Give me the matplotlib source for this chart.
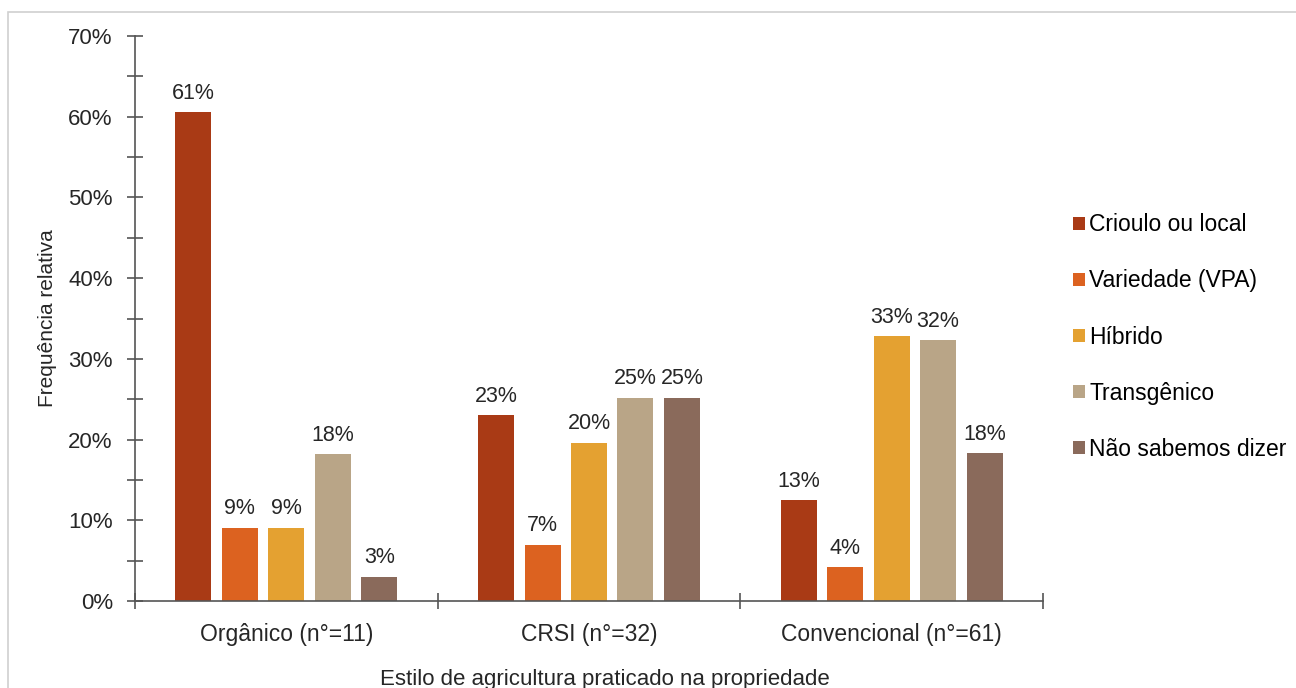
import numpy as np
import matplotlib.pyplot as plt
from matplotlib.patches import Rectangle

plt.rcParams['font.family'] = ['Liberation Sans', 'DejaVu Sans']

# data
grupos = ["Orgânico (n°=11)", "CRSI (n°=32)", "Convencional (n°=61)"]
series = ["Crioulo ou local", "Variedade (VPA)", "Híbrido", "Transgênico", "Não sabemos dizer"]
organico = [60.6, 9.1, 9.1, 18.2, 3.0]
crsi = [23.0, 7.0, 19.6, 25.2, 25.2]
convencional = [12.5, 4.2, 32.8, 32.3, 18.3]
rotulos = [["61%", "9%", "9%", "18%", "3%"],
           ["23%", "7%", "20%", "25%", "25%"],
           ["13%", "4%", "33%", "32%", "18%"]]
cores = ["#A93A15", "#DC6220", "#E4A131", "#B9A587", "#8A6A5B"]

valores = np.array([organico, crsi, convencional])

fig = plt.figure(figsize=(12.96, 6.88), dpi=100)
ax = fig.add_axes([135/1296, 1 - 601/688, (1043 - 135)/1296, (601 - 36)/688])

# outer frame
fig.patches.append(Rectangle((8/1296, -0.1), 1.2, 1 - 12/688 + 0.1,
                             transform=fig.transFigure, fill=False,
                             edgecolor="#D0D0D0", linewidth=1.2))

x = np.arange(len(grupos))
slot = 0.1535
largura = 0.119
for i, s in enumerate(series):
    pos = x + (i - 2) * slot
    barras = ax.bar(pos, valores[:, i], width=largura, color=cores[i], label=s)
    for j, b in enumerate(barras):
        ax.annotate(rotulos[j][i], (b.get_x() + b.get_width() / 2, b.get_height()),
                    xytext=(0, 6), textcoords="offset points",
                    ha="center", va="bottom", fontsize=15.5, color="#262626")

ax.set_xlim(-0.5, 2.5)
ax.set_ylim(0, 70)
ax.set_yticks(np.arange(0, 71, 10))
ax.set_yticklabels([f"{v}%" for v in range(0, 71, 10)], fontsize=16, color="#262626")
ax.set_yticks(np.arange(5, 70, 10), minor=True)
ax.set_xticks([-0.5, 0.5, 1.5, 2.5])
ax.set_xticklabels([])
ax.set_xticks(x, minor=True)
ax.set_xticklabels(grupos, minor=True, fontsize=16.5, color="#262626")

for s in ["top", "right"]:
    ax.spines[s].set_visible(False)
for s in ["left", "bottom"]:
    ax.spines[s].set_color("#555555")
    ax.spines[s].set_linewidth(1.2)
ax.tick_params(axis="y", which="both", direction="inout", length=12, width=1.2,
               color="#555555", pad=10)
ax.tick_params(axis="x", which="major", direction="inout", length=12, width=1.2,
               color="#555555")
ax.tick_params(axis="x", which="minor", length=0, pad=16)

ax.set_ylabel("Frequência relativa", fontsize=15, color="#262626", labelpad=8)
fig.text(605/1296, 1 - 679/688, "Estilo de agricultura praticado na propriedade",
         ha="center", va="center", fontsize=16, color="#262626")

fig.legend(loc="upper left", bbox_to_anchor=(1064/1296, 1 - 204/688),
           frameon=False, fontsize=16.5, handlelength=0.5, handleheight=0.5,
           handletextpad=0.2, labelspacing=1.45, borderaxespad=0)

fig.savefig("out.png", dpi=100)
